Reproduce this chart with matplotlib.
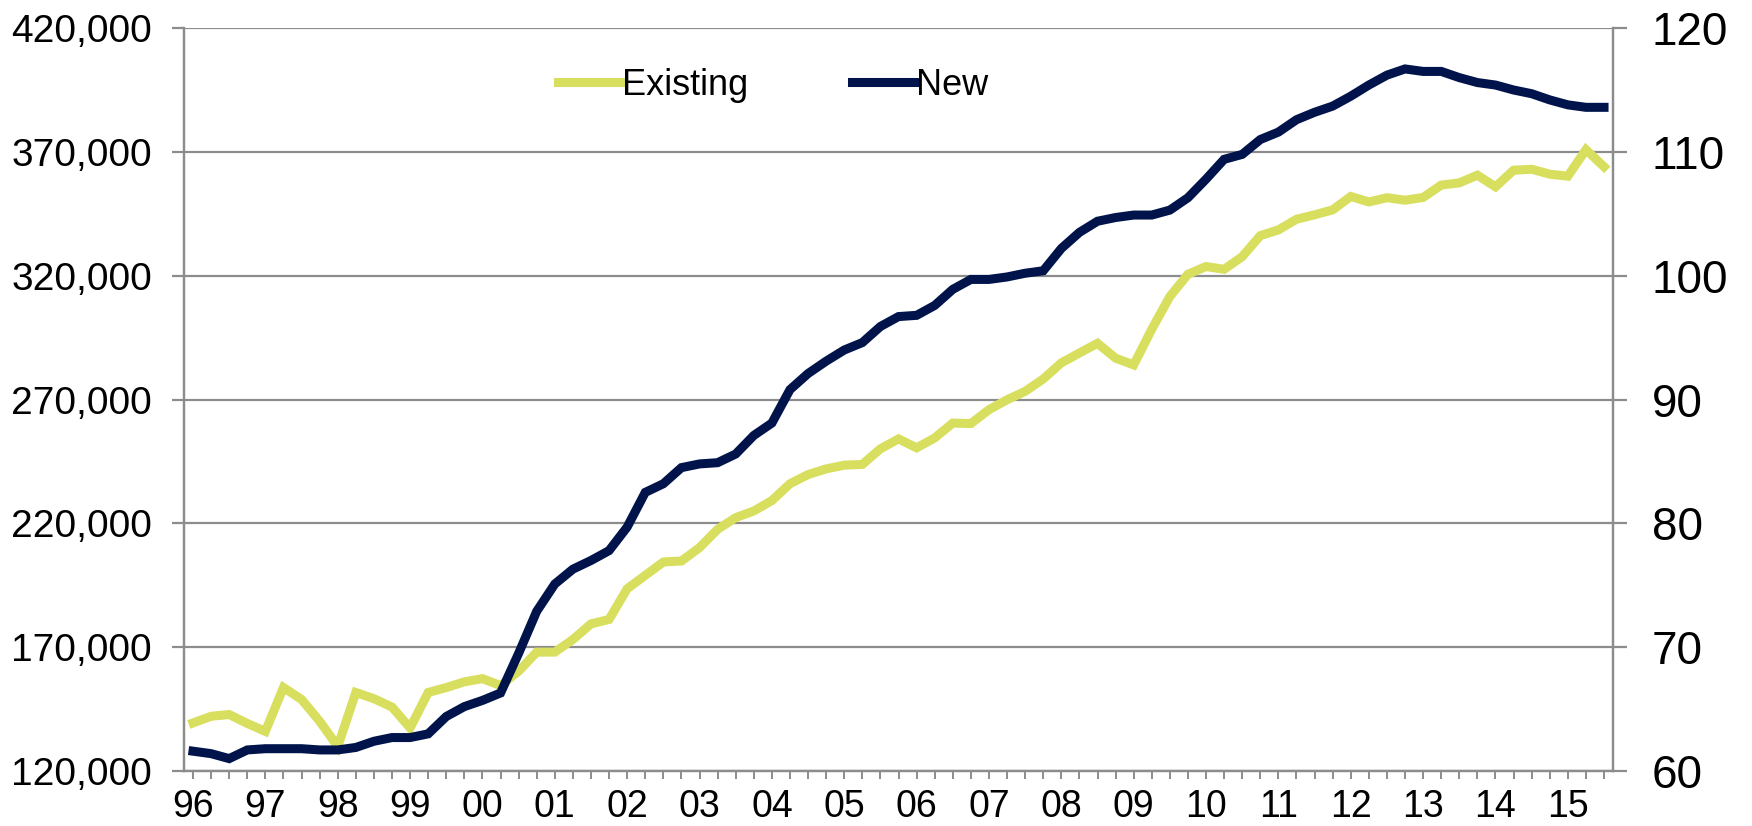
import matplotlib
matplotlib.use("Agg")
import matplotlib.pyplot as plt
import numpy as np

plt.rcParams['font.family'] = ['Liberation Sans', 'DejaVu Sans']

# quarterly, 1996 Q1 .. 2015 Q3
year_labels = ['96', '97', '98', '99', '00', '01', '02', '03', '04', '05',
               '06', '07', '08', '09', '10', '11', '12', '13', '14', '15']

# Existing (left axis)
existing = [139.4, 142.1, 142.8, 139.2, 136.0, 153.7, 148.9, 140.1, 129.9, 151.7,
            149.2, 145.8, 137.4, 151.7, 153.7, 156.0, 157.3, 154.5, 160.3, 168.0,
            168.0, 173.1, 179.4, 181.2, 193.6, 199.0, 204.4, 204.8, 210.2, 217.6,
            222.3, 225.0, 229.2, 236.0, 239.7, 242.0, 243.5, 243.8, 250.1, 254.1,
            250.5, 254.5, 260.5, 260.3, 265.9, 269.9, 273.3, 278.3, 284.8, 288.8,
            292.7, 286.7, 284.0, 298.4, 311.6, 320.6, 323.7, 322.6, 327.7, 336.2,
            338.5, 342.8, 344.6, 346.6, 352.0, 349.8, 351.5, 350.5, 351.6, 356.6,
            357.5, 360.6, 355.9, 362.6, 363.0, 361.0, 360.2, 370.9, 364.0]
existing = [v * 1000 for v in existing]

# New (right axis, index)
new = [61.6, 61.4, 61.0, 61.7, 61.8, 61.8, 61.8, 61.7, 61.7, 61.9,
       62.4, 62.7, 62.7, 63.0, 64.4, 65.2, 65.7, 66.3, 69.5, 72.9,
       75.1, 76.3, 77.0, 77.8, 79.7, 82.5, 83.2, 84.5, 84.8, 84.9,
       85.6, 87.1, 88.1, 90.8, 92.1, 93.1, 94.0, 94.6, 95.9, 96.7,
       96.8, 97.6, 98.9, 99.7, 99.7, 99.9, 100.2, 100.4, 102.2, 103.5,
       104.4, 104.7, 104.9, 104.9, 105.3, 106.3, 107.8, 109.4, 109.8, 111.0,
       111.6, 112.6, 113.2, 113.7, 114.5, 115.4, 116.2, 116.7, 116.5, 116.5,
       116.0, 115.6, 115.4, 115.0, 114.7, 114.2, 113.8, 113.6, 113.6]

YELLOW = '#D8DF5E'
NAVY = '#00134A'
GREY = '#8C8C8C'

x = np.arange(len(existing))

fig = plt.figure(figsize=(17.52, 8.26), dpi=100)
ax = fig.add_axes([0.105, 0.0666, 0.8157, 0.8994])
ax2 = ax.twinx()

ax.plot(x, existing, color=YELLOW, lw=6.5, solid_joinstyle='miter', label='Existing')
ax2.plot(x, new, color=NAVY, lw=6.5, solid_joinstyle='miter', label='New')

ax.set_xlim(-0.5, len(x) - 0.5)
ax.set_ylim(120000, 420000)
ax2.set_ylim(60, 120)
ax.set_yticks(np.arange(120000, 420001, 50000))
ax.set_yticklabels([f'{v:,}' for v in range(120000, 420001, 50000)])
ax2.set_yticks(np.arange(60, 121, 10))

# ticks at every quarter, label on Q1
ticks = list(x)
labels = ['' for _ in ticks]
for k, lab in enumerate(year_labels):
    labels[k * 4] = lab
ax.set_xticks(ticks)
ax.set_xticklabels(labels)

ax.grid(axis='y', color=GREY, lw=1.6)
ax.set_axisbelow(True)

for a in (ax, ax2):
    for s in a.spines.values():
        s.set_color(GREY)
        s.set_linewidth(1.6)
    a.spines['top'].set_visible(False)

ax.tick_params(axis='x', length=6, width=1.4, color=GREY, labelsize=27, pad=7)
ax.tick_params(axis='y', length=9, width=1.6, color=GREY, labelsize=28, pad=14)
ax2.tick_params(axis='y', length=10, width=1.6, color=GREY, labelsize=33, pad=18)

h1, l1 = ax.get_legend_handles_labels()
h2, l2 = ax2.get_legend_handles_labels()
ax2.legend(h1 + h2, l1 + l2, loc='center left', bbox_to_anchor=(0.262, 0.923),
           ncol=2, frameon=False, fontsize=26, handlelength=1.7,
           handletextpad=0.05, columnspacing=2.9, borderpad=0, borderaxespad=0)

fig.savefig('out.png', dpi=100)
